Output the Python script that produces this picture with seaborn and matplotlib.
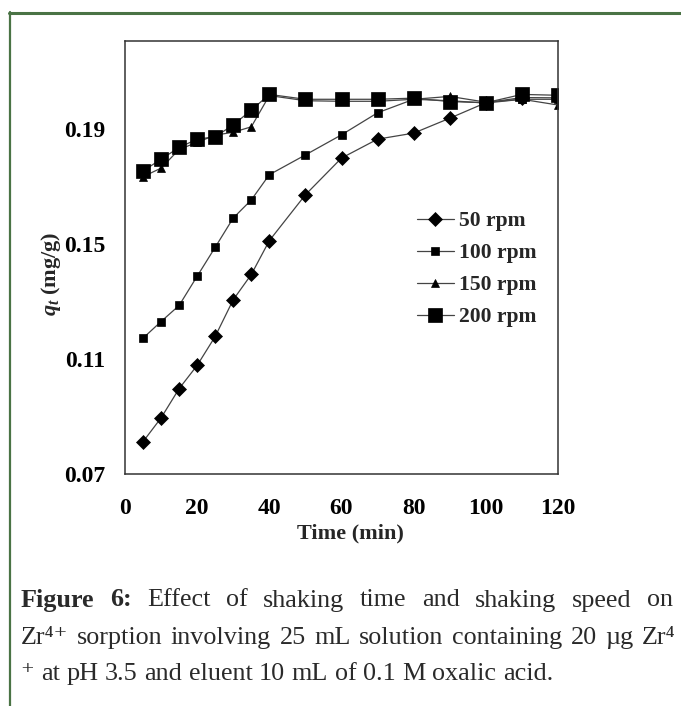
import matplotlib
matplotlib.use('Agg')
import matplotlib.pyplot as plt
import seaborn as sns
from matplotlib.lines import Line2D

# ---------------- data ----------------
time_min = [5, 10, 15, 20, 25, 30, 35, 40, 50, 60, 70, 80, 90, 100, 110, 120]
rpm50 = [0.0811, 0.0894, 0.0996, 0.1077, 0.1178, 0.1306, 0.1394, 0.1512,
         0.1672, 0.1800, 0.1866, 0.1887, 0.1939, 0.1993, 0.2011, 0.2010]
rpm100 = [0.1172, 0.1230, 0.1286, 0.1388, 0.1489, 0.1591, 0.1654, 0.1742,
          0.1811, 0.1881, 0.1958, 0.2005, 0.2000, 0.1992, 0.2005, 0.2005]
rpm150 = [0.1735, 0.1765, 0.1830, 0.1855, 0.1880, 0.1890, 0.1909, 0.2018,
          0.2000, 0.1998, 0.1998, 0.2005, 0.2015, 0.1995, 0.2005, 0.1985]
rpm200 = [0.1755, 0.1796, 0.1837, 0.1866, 0.1874, 0.1916, 0.1967, 0.2022,
          0.2005, 0.2005, 0.2005, 0.2009, 0.1997, 0.1993, 0.2022, 0.2019]
series_labels = ["50 rpm", "100 rpm", "150 rpm", "200 rpm"]
x_ticks = [0, 20, 40, 60, 80, 100, 120]
y_ticks = [0.07, 0.11, 0.15, 0.19]
y_tick_labels = ["0.07", "0.11", "0.15", "0.19"]

caption_line1 = [("Figure", "bold"), ("6:", "bold"), ("Effect", "normal"), ("of", "normal"),
                 ("shaking", "normal"), ("time", "normal"), ("and", "normal"),
                 ("shaking", "normal"), ("speed", "normal"), ("on", "normal")]
caption_line2 = ["Zr\u2074\u207a", "sorption", "involving", "25", "mL", "solution",
                 "containing", "20", "\u00b5g", "Zr\u2074"]
caption_line3 = ["\u207a", "at", "pH", "3.5", "and", "eluent", "10", "mL", "of",
                 "0.1", "M", "oxalic", "acid."]

# ---------------- style ----------------
sns.set_style("white")
plt.rcParams['font.family'] = ['Liberation Serif', 'DejaVu Serif']
plt.rcParams['mathtext.fontset'] = 'custom'
plt.rcParams['mathtext.rm'] = 'Liberation Serif'
plt.rcParams['mathtext.it'] = 'Liberation Serif:italic:bold'
plt.rcParams['mathtext.bf'] = 'Liberation Serif:bold'
plt.rcParams['mathtext.default'] = 'regular'

W, H = 681, 706
fig = plt.figure(figsize=(W / 100, H / 100), dpi=100)
fig.patch.set_facecolor('white')

ax_left, ax_right, ax_top, ax_bot = 125, 558, 40.5, 473.5
ax = fig.add_axes([ax_left / W, (H - ax_bot) / H, (ax_right - ax_left) / W, (ax_bot - ax_top) / H])

styles = [('D', 7.0), ('s', 5.5), ('^', 5.5), ('s', 9.5)]
for lab, vals, (mk, ms) in zip(series_labels, [rpm50, rpm100, rpm150, rpm200], styles):
    sns.lineplot(x=time_min, y=vals, ax=ax, marker=mk, markersize=ms,
                 color='#444444', linewidth=0.9, markerfacecolor='black',
                 markeredgecolor='black', markeredgewidth=0.5, label=lab,
                 errorbar=None)

ax.set_xlim(0, 120)
ax.set_ylim(0.07, 0.221)
ax.set_xticks(x_ticks)
ax.set_xticklabels([str(v) for v in x_ticks])
ax.set_yticks(y_ticks)
ax.set_yticklabels(y_tick_labels)
ax.tick_params(direction='in', length=6, width=1.0, color='#333333',
               labelsize=17, labelcolor='black')
ax.tick_params(axis='x', pad=18)
ax.tick_params(axis='y', pad=14)
for t in ax.get_xticklabels() + ax.get_yticklabels():
    t.set_fontweight('bold')
for sp in ax.spines.values():
    sp.set_color('#333333')
    sp.set_linewidth(1.1)

ax.set_xlabel('Time (min)', fontsize=16, fontweight='bold', va='center')
ax.xaxis.set_label_coords((350 - ax_left) / (ax_right - ax_left), (ax_bot - 533) / (ax_bot - ax_top))
ax.set_ylabel(r'$\mathit{q_t}$ (mg/g)', fontsize=16, fontweight='bold', va='center')
ax.yaxis.set_label_coords((51 - ax_left) / (ax_right - ax_left), (ax_bot - 274) / (ax_bot - ax_top))

ax.legend(loc='upper left',
          bbox_to_anchor=((417 - ax_left) / (ax_right - ax_left), (ax_bot - 211) / (ax_bot - ax_top)),
          frameon=False, prop={'weight': 'bold', 'size': 15.6}, handlelength=1.7,
          handletextpad=0.25, labelspacing=0.55, borderpad=0, borderaxespad=0)

# ---------------- page frame ----------------
green = '#4a7345'
fig.add_artist(Line2D([9 / W, 1], [1 - 12.5 / H, 1 - 12.5 / H], transform=fig.transFigure,
                      color=green, linewidth=2.2))
fig.add_artist(Line2D([10 / W, 10 / W], [1 - 11.5 / H, 0], transform=fig.transFigure,
                      color=green, linewidth=1.6))

# ---------------- caption ----------------
renderer = fig.canvas.get_renderer()
cap_size = 18.8
cap_color = '#2a2a2a'


def place_line(tokens, baseline_px, x0, x1, justify):
    items = []
    for tok in tokens:
        if isinstance(tok, tuple):
            txt, wt = tok
        else:
            txt, wt = tok, 'normal'
        t = fig.text(0, 1 - baseline_px / H, txt, fontsize=cap_size, fontweight=wt,
                     color=cap_color, va='baseline', ha='left')
        w = t.get_window_extent(renderer).width
        items.append((t, w))
    total = sum(w for _, w in items)
    if justify:
        gap = (x1 - x0 - total) / (len(items) - 1)
    else:
        gap = 0.25 * cap_size * 100 / 72
    x = x0
    for t, w in items:
        t.set_x(x / W)
        x += w + gap


place_line(caption_line1, 606.5, 20.7, 673, True)
place_line(caption_line2, 644, 20.7, 675.5, True)
place_line(caption_line3, 680, 20.7, 550, False)

fig.savefig('out.png', dpi=100, facecolor='white')
